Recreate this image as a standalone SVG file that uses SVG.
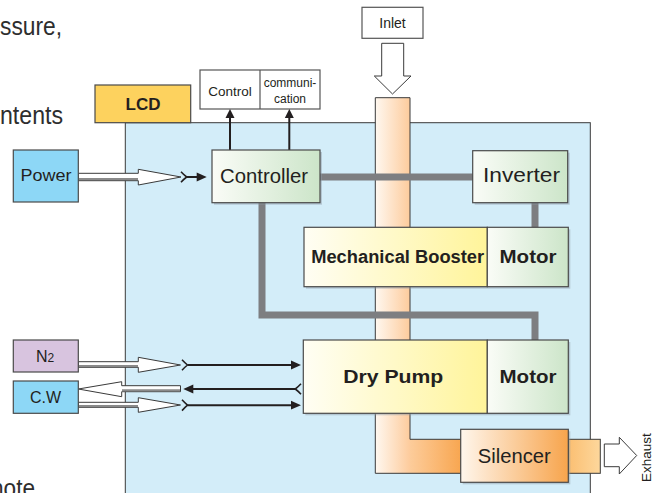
<svg xmlns="http://www.w3.org/2000/svg" width="653" height="493" viewBox="0 0 653 493">
<style>
.frag{font-family:"Liberation Sans",Arial,sans-serif;font-size:26px;fill:#2e2e2e}
.t{font-family:"Liberation Sans",Arial,sans-serif;fill:#231f20}
.b{font-weight:bold}
.box{stroke:#4a4a4a;stroke-width:1.2}
.sh{fill:#8c9aa3;opacity:0.45}
.gl{fill:none;stroke:#7d7e81;stroke-width:7;stroke-linejoin:miter}
.ln{stroke:#231f20;stroke-width:2;fill:none}
.hol{fill:#fff;stroke:#3a3a3a;stroke-width:1}
.shd{stroke:#8a8a8a;stroke-width:2}
.chev{fill:none;stroke:#231f20;stroke-width:1.6}
.ah{fill:#231f20}
</style>
<defs>
<linearGradient id="gGreen" x1="0" y1="0" x2="1" y2="0"><stop offset="0" stop-color="#fafcf7"/><stop offset="1" stop-color="#cce5c9"/></linearGradient>
<linearGradient id="gYellow" x1="0" y1="0" x2="1" y2="0"><stop offset="0" stop-color="#fffef4"/><stop offset="1" stop-color="#fff49a"/></linearGradient>
<linearGradient id="gPipe" x1="0" y1="0" x2="1" y2="0"><stop offset="0" stop-color="#fff8f0"/><stop offset="1" stop-color="#fdcb9c"/></linearGradient>
<linearGradient id="gPipeH" gradientUnits="userSpaceOnUse" x1="405" y1="0" x2="461" y2="0"><stop offset="0" stop-color="#fdd0a2"/><stop offset="1" stop-color="#f8a650"/></linearGradient>
<linearGradient id="gSil" x1="0" y1="0" x2="1" y2="0"><stop offset="0" stop-color="#fff6ec"/><stop offset="1" stop-color="#f7a44c"/></linearGradient>
<linearGradient id="gExh" x1="0" y1="0" x2="1" y2="0"><stop offset="0" stop-color="#fbbf72"/><stop offset="1" stop-color="#fdd79c"/></linearGradient>
</defs>

<rect width="653" height="493" fill="#fff"/>

<!-- partial page text -->
<text class="frag" x="0" y="35" textLength="62" lengthAdjust="spacingAndGlyphs">ssure,</text>
<text class="frag" x="0" y="124" textLength="63" lengthAdjust="spacingAndGlyphs">ntents</text>
<text class="frag" x="-9" y="497" textLength="44" lengthAdjust="spacingAndGlyphs">note</text>

<!-- main panel -->
<g id="panel">
<rect x="125.3" y="122.7" width="465" height="400" fill="#d3edf9" stroke="#3a3a3a" stroke-width="1"/>
</g>

<g id="lcd">
<rect class="box" x="95" y="85" width="95.7" height="37.7" fill="#fdd25e"/>
<text class="t b" x="143" y="110" font-size="17" text-anchor="middle">LCD</text>
</g>

<g id="control-comm">
<rect x="200" y="70" width="120" height="39" fill="#fff" stroke="#555" stroke-width="1.2"/>
<line x1="260" y1="70" x2="260" y2="109" stroke="#555" stroke-width="1.2"/>
<text class="t" x="230" y="96" font-size="13.5" text-anchor="middle">Control</text>
<text class="t" x="290" y="87.3" font-size="12" text-anchor="middle">communi-</text>
<text class="t" x="290" y="102.7" font-size="12" text-anchor="middle">cation</text>
</g>

<g id="inlet">
<rect x="362" y="7.3" width="61" height="31" fill="#fff" stroke="#555" stroke-width="1.2"/>
<text class="t" x="392.5" y="27.5" font-size="14" text-anchor="middle">Inlet</text>
<polygon class="hol" points="381.7,43.3 403.7,43.3 403.7,76 411,76 392.5,94 374.3,76 381.7,76"/>
</g>

<!-- pipe -->
<g id="pipe">
<rect x="375.3" y="97.7" width="34.7" height="375.6" fill="url(#gPipe)"/>
<rect x="410" y="439.3" width="51" height="34" fill="url(#gPipeH)"/>
<path d="M375.3,473.3 V97.7 H410 V439.3 H461" fill="none" stroke="#3a3a3a" stroke-width="1"/>
<path d="M375.3,473.3 H461" fill="none" stroke="#3a3a3a" stroke-width="1"/>
<rect x="568.3" y="439.3" width="32" height="34" fill="url(#gExh)" stroke="#3a3a3a" stroke-width="1"/>
</g>

<!-- connectors -->
<g id="connectors">
<line class="gl" x1="320" y1="177" x2="473" y2="177"/>
<line class="gl" x1="535" y1="202.7" x2="535" y2="227.3"/>
<polyline class="gl" points="262,202.7 262,315 535,315 535,340"/>
<!-- controller up arrows -->
<line class="ln" x1="230" y1="150" x2="230" y2="116"/>
<polygon class="ah" points="230,109 225.5,118 234.5,118"/>
<line class="ln" x1="289.3" y1="150" x2="289.3" y2="116"/>
<polygon class="ah" points="289.3,109 284.8,118 293.8,118"/>
<!-- power -->
<polygon class="hol" points="78.3,173.3 138.3,173.3 138.3,169.3 181,177 138.3,185 138.3,180.7 78.3,180.7"/>
<line class="shd" x1="79" y1="179" x2="138" y2="179"/>
<path class="chev" d="M181,171.8 Q184,175 186.7,177 Q184,179 181,182.2"/>
<line class="ln" x1="186.7" y1="177" x2="198" y2="177"/>
<polygon class="ah" points="206.7,177 196.7,172.6 196.7,181.4"/>
<!-- N2 -->
<polygon class="hol" points="78.3,361.7 138.3,361.7 138.3,357.3 180.5,365 138.3,372.3 138.3,367.3 78.3,367.3"/>
<line class="shd" x1="79" y1="366" x2="138" y2="366"/>
<path class="chev" d="M182,359.8 Q185,363 187.5,365 Q185,367 182,370.2"/>
<line class="ln" x1="187.5" y1="365" x2="293" y2="365"/>
<polygon class="ah" points="301,365 291,360.6 291,369.4"/>
<!-- C.W return -->
<polygon class="hol" points="180.5,385.7 121.7,385.7 121.7,381.7 78.3,389 121.7,396.7 121.7,391.7 180.5,391.7"/>
<line class="shd" x1="122" y1="390.3" x2="180" y2="390.3"/>
<polygon class="ah" points="183.3,389 193.3,384.6 193.3,393.4"/>
<line class="ln" x1="192" y1="389" x2="295.5" y2="389"/>
<path class="chev" d="M301,383.8 Q298,387 295.3,389 Q298,391 301,394.2"/>
<!-- C.W in -->
<polygon class="hol" points="78.3,402.3 138.3,402.3 138.3,397.7 180.5,405 138.3,412.3 138.3,407.3 78.3,407.3"/>
<line class="shd" x1="79" y1="406" x2="138" y2="406"/>
<path class="chev" d="M182,399.8 Q185,403 187.5,405.2 Q185,407.4 182,410.6"/>
<line class="ln" x1="187.5" y1="405.2" x2="293" y2="405.2"/>
<polygon class="ah" points="301,405.2 291,400.8 291,409.6"/>
<!-- exhaust -->
<polygon class="hol" points="604.3,444 619.3,444 619.3,437.3 636.7,455.5 619.3,474 619.3,466.7 604.3,466.7"/>
</g>

<g id="power">
<rect class="box" x="13.3" y="150" width="65" height="52" fill="#8dd7f6"/>
<text class="t" x="46" y="180.7" font-size="17" text-anchor="middle" textLength="51" lengthAdjust="spacingAndGlyphs">Power</text>
</g>

<g id="n2">
<rect class="box" x="13.3" y="340" width="65" height="32" fill="#d8c4df"/>
<text class="t" x="45" y="362" font-size="16" text-anchor="middle">N<tspan font-size="12">2</tspan></text>
</g>

<g id="cw">
<rect class="box" x="13.3" y="381" width="65" height="32.3" fill="#8dd7f6"/>
<text class="t" x="45.5" y="402.7" font-size="16" text-anchor="middle">C.W</text>
</g>

<g id="controller">
<rect class="sh" x="214" y="152" width="108" height="52.7"/>
<rect class="box" x="212" y="150" width="108" height="52.7" fill="url(#gGreen)"/>
<text class="t" x="264" y="182.7" font-size="20" text-anchor="middle" textLength="88" lengthAdjust="spacingAndGlyphs">Controller</text>
</g>

<g id="inverter">
<rect class="sh" x="474.7" y="152.7" width="95" height="52"/>
<rect class="box" x="472.7" y="150.7" width="95" height="52" fill="url(#gGreen)"/>
<text class="t" x="521.5" y="182" font-size="20" text-anchor="middle" textLength="77" lengthAdjust="spacingAndGlyphs">Inverter</text>
</g>

<g id="mechanical-booster">
<rect class="sh" x="306" y="229.3" width="264.3" height="59.4"/>
<rect class="box" x="304" y="227.3" width="183.3" height="59.4" fill="url(#gYellow)"/>
<text class="t b" x="397.7" y="263.3" font-size="18" text-anchor="middle" textLength="173" lengthAdjust="spacingAndGlyphs">Mechanical Booster</text>
</g>

<g id="booster-motor">
<rect class="box" x="487.3" y="227.3" width="81" height="59.4" fill="url(#gGreen)"/>
<text class="t b" x="528" y="263.3" font-size="19" text-anchor="middle" textLength="57" lengthAdjust="spacingAndGlyphs">Motor</text>
</g>

<g id="dry-pump">
<rect class="sh" x="305.3" y="342" width="265" height="73.3"/>
<rect class="box" x="303.3" y="340" width="184" height="73.3" fill="url(#gYellow)"/>
<text class="t b" x="393.3" y="383.3" font-size="19" text-anchor="middle" textLength="100" lengthAdjust="spacingAndGlyphs">Dry Pump</text>
</g>

<g id="pump-motor">
<rect class="box" x="487.3" y="340" width="81" height="73.3" fill="url(#gGreen)"/>
<text class="t b" x="528" y="383.3" font-size="19" text-anchor="middle" textLength="57" lengthAdjust="spacingAndGlyphs">Motor</text>
</g>

<g id="silencer">
<rect class="sh" x="462.7" y="431.3" width="107.6" height="53"/>
<rect class="box" x="460.7" y="429.3" width="107.6" height="53" fill="url(#gSil)"/>
<text class="t" x="514.3" y="462.7" font-size="20" text-anchor="middle" textLength="73" lengthAdjust="spacingAndGlyphs">Silencer</text>
</g>

<g id="exhaust-label">
<text class="t" transform="translate(650.5,457.7) rotate(-90)" font-size="13.5" text-anchor="middle">Exhaust</text>
</g>
</svg>
